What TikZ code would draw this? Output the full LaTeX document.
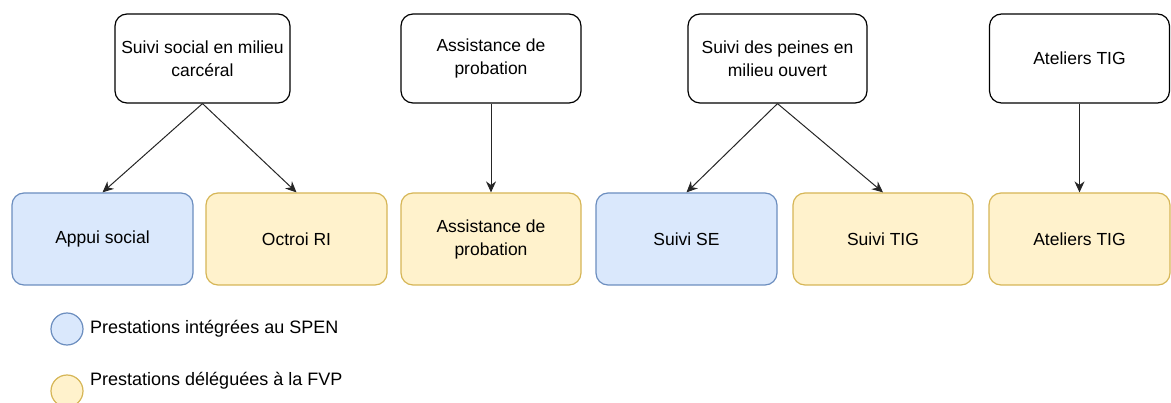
\documentclass[tikz,border=0pt]{standalone}
\usepackage{fontspec}
\setmainfont{Liberation Sans}
\usetikzlibrary{arrows.meta}
\definecolor{bluefill}{HTML}{DAE8FC}
\definecolor{bluedraw}{HTML}{6C8EBF}
\definecolor{yelfill}{HTML}{FFF2CC}
\definecolor{yeldraw}{HTML}{D6B656}
\tikzset{
  box/.style={draw=black, line width=1.2pt, rounded corners=12pt, minimum width=#1, align=center, font=\fontsize{17.5}{23}\selectfont, inner sep=2pt},
  topbox/.style={box=175pt, fill=white, minimum height=89pt},
  bluebox/.style={box=181pt, draw=bluedraw, fill=bluefill, minimum height=92pt},
  yelbox/.style={box=181pt, draw=yeldraw, fill=yelfill, minimum height=92pt},
  arr/.style={-{Stealth[length=11pt,width=10pt]}, line width=1pt, black!85},
  legtext/.style={anchor=west, font=\fontsize{18}{22}\selectfont, inner sep=0pt}
}
\begin{document}
\begin{tikzpicture}[x=1pt,y=-1pt]
\useasboundingbox (0,0) rectangle (1171,403);
\node[topbox] (t1) at (202.5,58.5) {Suivi social en milieu\\carcéral};
\node[topbox, minimum width=180pt] (t2) at (491,58.5) {Assistance de\\probation};
\node[topbox, minimum width=179pt] (t3) at (777.5,58.5) {Suivi des peines en\\milieu ouvert};
\node[topbox, minimum width=180pt] (t4) at (1079.5,58.5) {Ateliers TIG};
\node[bluebox] (b1) at (102.5,239) {Appui social};
\node[yelbox] (b2) at (296.5,239) {Octroi RI};
\node[yelbox, minimum width=180pt] (b3) at (491,239) {Assistance de\\probation};
\node[bluebox] (b4) at (686.5,239) {Suivi SE};
\node[yelbox, minimum width=180pt] (b5) at (883,239) {Suivi TIG};
\node[yelbox] (b6) at (1079.5,239) {Ateliers TIG};
\draw[arr] (t1.south) -- (b1.north);
\draw[arr] (t1.south) -- (b2.north);
\draw[arr] (t2.south) -- (b3.north);
\draw[arr] (t3.south) -- (b4.north);
\draw[arr] (t3.south) -- (b5.north);
\draw[arr] (t4.south) -- (b6.north);
\node[circle, draw=bluedraw, fill=bluefill, line width=1.2pt, minimum size=32pt, inner sep=0pt] (l1) at (67,329) {};
\node[legtext] (lt1) at (90,329) {Prestations intégrées au SPEN};
\node[circle, draw=yeldraw, fill=yelfill, line width=1.2pt, minimum size=32pt, inner sep=0pt] (l2) at (67,391) {};
\node[legtext] (lt2) at (90,381) {Prestations déléguées à la FVP};
\end{tikzpicture}
\end{document}
